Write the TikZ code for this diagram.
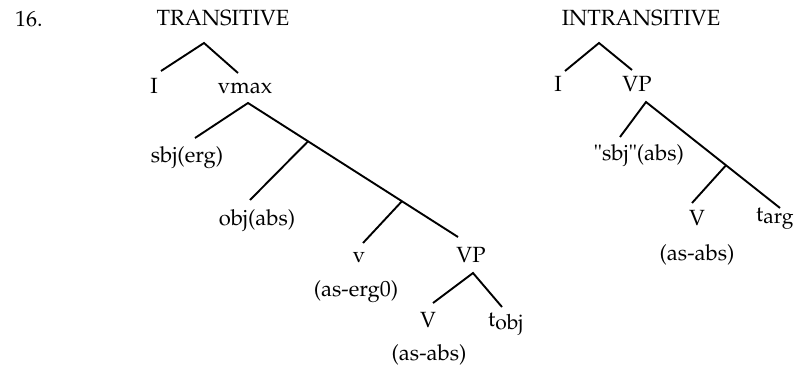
\documentclass[tikz,border=0pt]{standalone}
\usepackage[T1]{fontenc}
\usepackage{mathpazo}
\usetikzlibrary{calc}
\begin{document}
\begin{tikzpicture}[x=1pt,y=-1pt,
  lbl/.style={anchor=base,inner sep=0pt,font=\fontsize{22}{26}\selectfont},
  br/.style={line width=1.9pt}]
\useasboundingbox (0,0) rectangle (797,369);
% ---- headings
\node[lbl,anchor=base west] (num) at (15,27) {16.};
\node[lbl] (trans) at (223,26) {TRANSITIVE};
\node[lbl] (intrans) at (641,26) {INTRANSITIVE};
% ---- transitive tree
\node[lbl] (tI) at (154,93) {I};
\node[lbl] (vmax) at (245,93) {vmax};
\node[lbl] (sbj) at (187,162) {sbj(erg)};
\node[lbl] (obj) at (257,225) {obj(abs)};
\node[lbl] (smallv) at (359,262) {v};
\node[lbl] (aserg) at (356,296) {(as-erg0)};
\node[lbl] (tVP) at (471,262) {VP};
\node[lbl] (tV) at (428,327) {V};
\node[lbl,anchor=base west] (tobj) at (488,326) {t\raisebox{-3pt}{\fontsize{21}{22}\selectfont obj}};
\node[lbl] (tasabs) at (429,360) {(as-abs)};
\coordinate (troot) at (204,43);
\coordinate (trootL) at (161,71);
\coordinate (trootR) at (238,73);
\coordinate (vtop) at (248,103);
\coordinate (sbjend) at (195,138);
\coordinate (vpend) at (458,237);
\coordinate (b1) at ($(vtop)!0.286!(vpend)$);
\coordinate (objend) at (250,200);
\coordinate (b2) at ($(vtop)!0.733!(vpend)$);
\coordinate (vend) at (363,243);
\coordinate (vptop) at (473,273);
\coordinate (Vend) at (433,303);
\coordinate (tobjend) at (502,307);
\draw[br] (trootL) -- (troot) -- (trootR);
\draw[br] (sbjend) -- (vtop) -- (vpend);
\draw[br] (b1) -- (objend);
\draw[br] (b2) -- (vend);
\draw[br] (Vend) -- (vptop) -- (tobjend);
% ---- intransitive tree
\node[lbl] (iI) at (558,92) {I};
\node[lbl] (iVP) at (637,92) {VP};
\node[lbl] (isbj) at (639,160) {"sbj"(abs)};
\node[lbl] (iV) at (697,225) {V};
\node[lbl,anchor=base west] (targ) at (756,221) {t\raisebox{-2.5pt}{\fontsize{21}{22}\selectfont arg}};
\node[lbl] (iasabs) at (697,260) {(as-abs)};
\coordinate (iroot) at (599,43);
\coordinate (irootL) at (565,71);
\coordinate (irootR) at (632,70);
\coordinate (ivptop) at (646,102);
\coordinate (isbjend) at (620,137);
\coordinate (itargend) at (780,208);
\coordinate (ib) at ($(ivptop)!0.597!(itargend)$);
\coordinate (iVend) at (692,203);
\draw[br] (irootL) -- (iroot) -- (irootR);
\draw[br] (isbjend) -- (ivptop) -- (itargend);
\draw[br] (ib) -- (iVend);
\end{tikzpicture}
\end{document}
